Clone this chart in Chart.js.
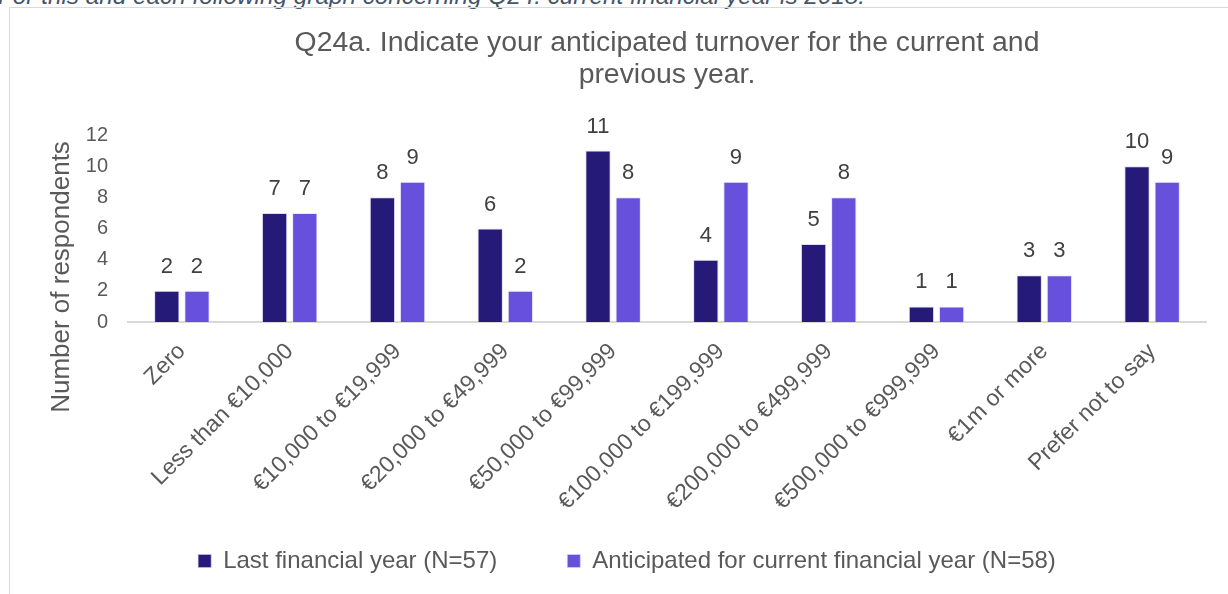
<!DOCTYPE html>
<html lang="en">
<head>
    <meta charset="UTF-8">
    <title>Q24a turnover</title>
    <script src="https://cdn.jsdelivr.net/npm/chart.js"></script>
    <style>
        body { margin: 0; background: #fff; overflow: hidden; }
        #nota {
            position: absolute; left: -2px; top: -16px;
            font: italic 24.3px "Liberation Sans", Arial, sans-serif;
            color: #44546A; line-height: 24px; white-space: nowrap;
        }
        #marco {
            position: absolute; left: 9px; top: 7px; width: 1218px; height: 586px;
            border-left: 1px solid #d9d9d9; border-top: 1px solid #d9d9d9;
        }
    </style>
</head>
<body>
    <div id="nota">For this and each following graph concerning Q24: current financial year is 2018.</div>
    <div id="marco">
        <canvas id="grafica"></canvas>
    </div>

    <script>
        // datos
        const categorias = ['Zero', 'Less than €10,000', '€10,000 to €19,999', '€20,000 to €49,999',
            '€50,000 to €99,999', '€100,000 to €199,999', '€200,000 to €499,999',
            '€500,000 to €999,999', '€1m or more', 'Prefer not to say'];
        const ultimoAnio = [2, 7, 8, 6, 11, 4, 5, 1, 3, 10];
        const anioActual = [2, 7, 9, 2, 8, 9, 8, 1, 3, 9];
        const nombresSeries = ['Last financial year (N=57)', 'Anticipated for current financial year (N=58)'];
        const ticksY = [0, 2, 4, 6, 8, 10, 12];

        const fuente = '"Liberation Sans", Arial, sans-serif';
        const gris = '#595959';

        // etiquetas encima de las barras
        const etiquetas = {
            id: 'etiquetas',
            afterDatasetsDraw(chart) {
                const ctx = chart.ctx;
                ctx.save();
                ctx.font = '22px ' + fuente;
                ctx.fillStyle = '#404040';
                ctx.textAlign = 'center';
                ctx.textBaseline = 'middle';
                chart.data.datasets.forEach((ds, i) => {
                    chart.getDatasetMeta(i).data.forEach((bar, j) => {
                        ctx.fillText(ds.data[j], bar.x, bar.y - 24);
                    });
                });
                ctx.restore();
            }
        };

        // titulo del eje Y
        const tituloY = {
            id: 'tituloY',
            afterDraw(chart) {
                const ctx = chart.ctx;
                ctx.save();
                ctx.translate(52, 269);
                ctx.rotate(-Math.PI / 2);
                ctx.font = '26px ' + fuente;
                ctx.fillStyle = gris;
                ctx.textAlign = 'center';
                ctx.textBaseline = 'middle';
                ctx.fillText('Number of respondents', 0, 0);
                ctx.restore();
            }
        };

        const ctx = document.getElementById('grafica').getContext('2d');
        new Chart(ctx, {
            type: 'bar',
            data: {
                labels: categorias,
                datasets: [{
                    label: nombresSeries[0],
                    data: ultimoAnio,
                    backgroundColor: '#261A78',
                    borderColor: 'rgba(200,195,240,0.6)',
                    borderWidth: 1,
                    categoryPercentage: 0.56,
                    barPercentage: 0.84
                }, {
                    label: nombresSeries[1],
                    data: anioActual,
                    backgroundColor: '#6751DC',
                    borderColor: 'rgba(220,215,250,0.6)',
                    borderWidth: 1,
                    categoryPercentage: 0.56,
                    barPercentage: 0.84
                }]
            },
            options: {
                responsive: true,
                maintainAspectRatio: false,
                animation: false,
                layout: { padding: { left: 38, right: 22, top: 0, bottom: 11 } },
                scales: {
                    x: {
                        grid: { display: false, drawTicks: false },
                        border: { display: true, color: '#d9d9d9', width: 2 },
                        ticks: {
                            autoSkip: false, maxRotation: 45, minRotation: 45,
                            padding: 16, color: gris,
                            font: { family: fuente, size: 23 }
                        },
                        afterFit(scale) {
                            scale.height = 157;
                            // las etiquetas largas invaden la zona de la leyenda, no recortar
                            scale._computeLabelArea = () => undefined;
                        }
                    },
                    y: {
                        min: 0, max: 12,
                        grid: { display: false, drawTicks: false },
                        border: { display: false },
                        afterBuildTicks(scale) { scale.ticks = ticksY.map(v => ({ value: v })); },
                        ticks: {
                            padding: 20, color: gris,
                            font: { family: fuente, size: 20 }
                        },
                        afterFit(scale) { scale.width = 80; }
                    }
                },
                plugins: {
                    title: {
                        display: true,
                        fullSize: false,
                        text: ['Q24a. Indicate your anticipated turnover for the current and', 'previous year.'],
                        color: gris,
                        font: { family: fuente, size: 28.4, weight: 'normal', lineHeight: 1.127 },
                        padding: { top: 19, bottom: 44 }
                    },
                    legend: {
                        position: 'bottom',
                        labels: {
                            boxWidth: 13, boxHeight: 13, padding: 70,
                            color: gris,
                            font: { family: fuente, size: 24 }
                        }
                    },
                    tooltip: { enabled: false }
                }
            },
            plugins: [etiquetas, tituloY]
        });
    </script>
</body>
</html>
